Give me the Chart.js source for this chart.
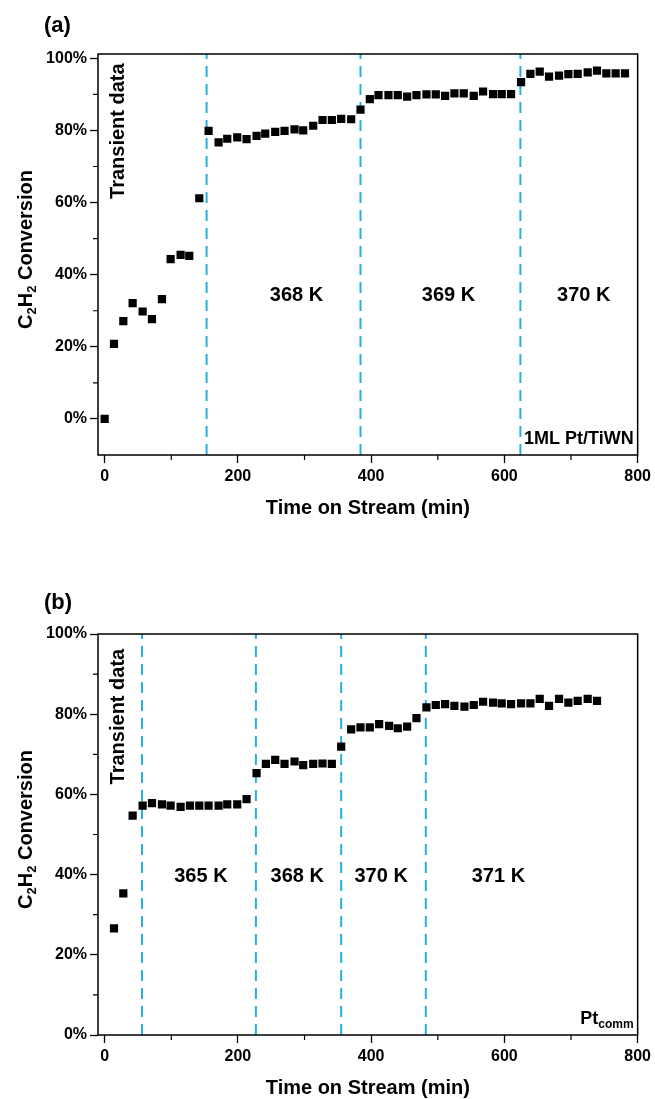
<!DOCTYPE html>
<html>
<head>
<meta charset="utf-8">
<script src="https://cdn.jsdelivr.net/npm/chart.js@4.4.0/dist/chart.umd.min.js"></script>
<style>
  html, body { margin: 0; padding: 0; background: #fff; overflow: hidden; }
  .panel { position: absolute; left: 0; width: 655px; height: 540px; }
  #panel-a { top: 0; }
  #panel-b { top: 580px; }
</style>
</head>
<body>
<div class="panel" id="panel-a"><canvas id="chart-a" width="655" height="540"></canvas></div>
<div class="panel" id="panel-b"><canvas id="chart-b" width="655" height="540"></canvas></div>
<script>
// (a) 1ML Pt/TiWN: conversion (%) vs time on stream (min)
const timeA = [0, 14, 28, 42, 57, 71, 86, 99, 114, 127, 142, 156, 171, 184, 199, 213, 228, 241, 256, 270,
  285, 298, 313, 327, 341, 355, 370, 384, 398, 411, 426, 440, 454, 468, 483, 497, 511, 525, 539, 554,
  568, 583, 596, 610, 625, 639, 653, 667, 682, 696, 710, 725, 739, 753, 767, 781];
const convA = [0, 20.8, 27.1, 32.1, 29.8, 27.7, 33.2, 44.3, 45.5, 45.2, 61.2, 79.9, 76.7, 77.7, 78.1, 77.6, 78.5, 79.1, 79.6, 79.9,
  80.3, 80.0, 81.3, 82.9, 82.9, 83.2, 83.1, 85.8, 88.7, 89.8, 89.8, 89.8, 89.4, 89.8, 90.0, 90.0, 89.6, 90.3, 90.3, 89.6,
  90.8, 90.1, 90.1, 90.1, 93.4, 95.7, 96.3, 94.9, 95.2, 95.6, 95.7, 96.1, 96.6, 95.8, 95.8, 95.8];
// temperature changes (min)
const stepsA = [153, 384, 624];
const tempsA = ['368 K', '369 K', '370 K'];

// (b) Pt_comm
const timeB = [14, 28, 42, 57, 71, 86, 99, 114, 128, 142, 156, 171, 184, 199, 213, 228, 242, 256, 270,
  285, 298, 313, 327, 341, 355, 370, 384, 398, 412, 427, 440, 454, 468, 483, 497, 511, 525, 540, 554,
  568, 583, 596, 610, 625, 639, 653, 667, 682, 696, 710, 725, 739];
const convB = [26.6, 35.3, 54.7, 57.2, 57.8, 57.5, 57.2, 56.9, 57.2, 57.2, 57.2, 57.2, 57.5, 57.5, 58.8, 65.3, 67.6, 68.6, 67.6,
  68.2, 67.3, 67.6, 67.7, 67.6, 71.9, 76.2, 76.7, 76.7, 77.5, 77.1, 76.5, 76.9, 79.0, 81.7, 82.3, 82.5, 82.1, 81.9, 82.3,
  83.1, 82.9, 82.7, 82.5, 82.7, 82.7, 83.8, 82.1, 83.8, 82.9, 83.3, 83.8, 83.3];
const stepsB = [56, 227, 355, 482];
const tempsB = ['365 K', '368 K', '370 K', '371 K'];

const xTicks = [0, 200, 400, 600, 800];
const xMinorTicks = [100, 300, 500, 700];
const yTicks = [0, 20, 40, 60, 80, 100];
const yMinorTicks = [10, 30, 50, 70, 90];

const FONT = '"Liberation Sans", Arial, Helvetica, sans-serif';
const STEP_COLOR = '#27aee3';

Chart.defaults.font.family = FONT;
Chart.defaults.color = '#000';

// text drawn with subscripts, parts = [[text, isSub], ...]
function drawRich(ctx, parts, x, y, align, size, subSize) {
  const fontOf = sub => `bold ${sub ? subSize : size}px ${FONT}`;
  const widths = parts.map(([t, sub]) => { ctx.font = fontOf(sub); return ctx.measureText(t).width; });
  const total = widths.reduce((s, w) => s + w, 0);
  let cx = align === 'right' ? x - total : align === 'center' ? x - total / 2 : x;
  ctx.textAlign = 'left';
  ctx.textBaseline = 'alphabetic';
  parts.forEach(([t, sub], i) => {
    ctx.font = fontOf(sub);
    ctx.fillText(t, cx, y + (sub ? size * 0.22 : 0));
    cx += widths[i];
  });
}

const decorations = {
  id: 'decorations',
  afterDatasetsDraw(chart, args, opts) {
    const { ctx, chartArea: a, scales: { x, y } } = chart;
    ctx.save();

    // box around the plot
    ctx.strokeStyle = '#000';
    ctx.lineWidth = 1.5;
    ctx.strokeRect(a.left, a.top, a.right - a.left, a.bottom - a.top);

    // short minor ticks
    ctx.lineWidth = 1.2;
    ctx.beginPath();
    xMinorTicks.forEach(v => {
      const px = x.getPixelForValue(v);
      ctx.moveTo(px, a.bottom); ctx.lineTo(px, a.bottom + 5);
    });
    yMinorTicks.forEach(v => {
      const py = y.getPixelForValue(v);
      ctx.moveTo(a.left, py); ctx.lineTo(a.left - 5, py);
    });
    ctx.stroke();

    ctx.fillStyle = '#000';
    ctx.font = `bold 20px ${FONT}`;
    ctx.textAlign = 'center';
    ctx.textBaseline = 'middle';
    opts.temps.forEach((t, i) => {
      ctx.fillText(t, x.getPixelForValue(opts.tempX[i]), y.getPixelForValue(opts.tempY));
    });

    ctx.save();
    ctx.translate(x.getPixelForValue(20), y.getPixelForValue(opts.transientY));
    ctx.rotate(-Math.PI / 2);
    ctx.fillText('Transient data', 0, 0);
    ctx.restore();

    // catalyst name, bottom right
    drawRich(ctx, opts.sample, a.right - 4, a.bottom - 11, 'right', 18, 12);

    // y axis title
    ctx.save();
    ctx.translate(32, (a.top + a.bottom) / 2 - 5);
    ctx.rotate(-Math.PI / 2);
    drawRich(ctx, [['C', false], ['2', true], ['H', false], ['2', true], [' Conversion', false]], 0, 0, 'center', 20, 13);
    ctx.restore();

    ctx.font = `bold 22px ${FONT}`;
    ctx.textAlign = 'left';
    ctx.textBaseline = 'middle';
    ctx.fillText(opts.letter, 44, opts.letterY);

    ctx.restore();
  }
};

function makeChart(canvasId, times, conv, steps, yMin, yMax, deco) {
  const points = times.map((t, i) => ({ x: t, y: conv[i] }));
  const stepSets = steps.map(s => ({
    data: [{ x: s, y: yMin }, { x: s, y: yMax }],
    showLine: true,
    borderColor: STEP_COLOR,
    borderWidth: 2,
    borderDash: [11, 7],
    pointRadius: 0,
    order: 2,
  }));

  return new Chart(document.getElementById(canvasId), {
    type: 'scatter',
    data: {
      datasets: [
        {
          data: points,
          pointStyle: 'rect',
          pointRadius: 5.8,
          pointHoverRadius: 5.8,
          backgroundColor: '#000',
          borderWidth: 0,
          order: 1,
        },
        ...stepSets,
      ],
    },
    options: {
      responsive: false,
      animation: false,
      events: [],
      layout: { padding: { left: 0, right: 15, top: 54, bottom: 10 } },
      plugins: { legend: { display: false }, tooltip: { enabled: false }, decorations: deco },
      scales: {
        x: {
          type: 'linear',
          min: -10,
          max: 800,
          afterBuildTicks: s => { s.ticks = xTicks.map(v => ({ value: v })); },
          afterFit: s => { s.height = 75; },
          ticks: { font: { size: 16, weight: 'bold' }, padding: 4, maxRotation: 0, autoSkip: false },
          grid: { drawOnChartArea: false, tickLength: 8, tickColor: '#000', tickWidth: 1.3 },
          border: { display: false },
          title: {
            display: true,
            text: 'Time on Stream (min)',
            font: { size: 20, weight: 'bold' },
            padding: { top: 0, bottom: 10 },
          },
        },
        y: {
          type: 'linear',
          min: yMin,
          max: yMax,
          afterBuildTicks: s => { s.ticks = yTicks.map(v => ({ value: v })); },
          afterFit: s => { s.width = 98; },
          ticks: { font: { size: 16, weight: 'bold' }, padding: 3, callback: v => v + '%' },
          grid: { drawOnChartArea: false, tickLength: 8, tickColor: '#000', tickWidth: 1.3 },
          border: { display: false },
        },
      },
    },
    plugins: [decorations],
  });
}

makeChart('chart-a', timeA, convA, stepsA, -10, 101.2, {
  letter: '(a)', letterY: 26,
  temps: tempsA, tempX: [288, 516, 719], tempY: 34.3,
  transientY: 79.8,
  sample: [['1ML Pt/TiWN', false]],
});

makeChart('chart-b', timeB, convB, stepsB, 0, 100, {
  letter: '(b)', letterY: 23,
  temps: tempsB, tempX: [144.5, 289, 415, 591], tempY: 39.5,
  transientY: 79.4,
  sample: [['Pt', false], ['comm', true]],
});
</script>
</body>
</html>
